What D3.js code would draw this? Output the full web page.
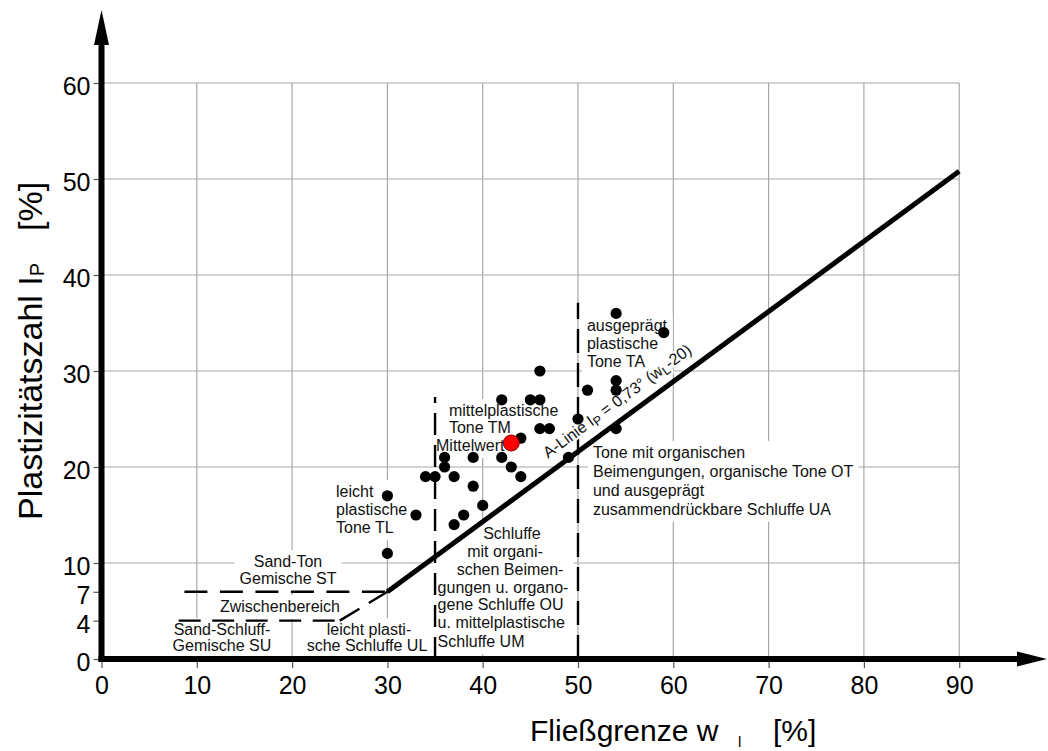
<!DOCTYPE html>
<html><head><meta charset="utf-8">
<script src="https://cdnjs.cloudflare.com/ajax/libs/d3/7.8.5/d3.min.js"></script>
<style>
html,body{margin:0;padding:0;background:#fff;}
svg{display:block;}
</style></head><body>
<svg id="chart" width="1048" height="751"></svg>
<script>
// ---------- data ----------
const xTicks = [0,10,20,30,40,50,60,70,80,90];
const yTicks = [0,4,7,10,20,30,40,50,60];
const xGrid = [10,20,30,40,50,60,70,80,90];
const yGrid = [10,20,30,40,50,60];
const liquidLimit      = [30,30,33,34,35,36,36,37,37,38,39,39,40,42,42,43,44,44,45,46,46,46,47,49,50,51,54,54,54,54,59];
const plasticityIndex  = [11,17,15,19,19,21,20,19,14,15,21,18,16,27,21,20,23,19,27,27,30,24,24,21,25,28,36,29,28,24,34];
const meanPoint = [43, 22.5];
const aLine = [[30,7],[90,50.8]];
const lineST = [[8.7,7],[30,7]];
const lineSU = [[8.1,4],[25,4]];
const lineULdiag = [[25,4],[30,7]];
const lineWL35 = [[35,0],[35,27.3]];
const lineWL50 = [[50,0],[50,37.1]];
const xTitle = "Fließgrenze w";
const yTitle = "Plastizitätszahl I";

// label blocks: text lines with anchor in data coordinates
const labels = [
  {lines:[["ausgeprägt",50.94,34.17,"start"],["plastische",50.94,32.3,"start"],["Tone TA",50.94,30.42,"start"]]},
  {lines:[["Tone mit organischen",51.57,20.94,"start"],["Beimengungen, organische Tone OT",51.57,18.98,"start"],["und ausgeprägt",51.57,17.0,"start"],["zusammendrückbare Schluffe UA",51.57,15.04,"start"]]},
  {lines:[["mittelplastische",36.46,25.31,"start"],["Tone TM",36.46,23.54,"start"],["Mittelwert",35.1,21.67,"start"]]},
  {lines:[["leicht",24.61,16.88,"start"],["plastische",24.61,15.0,"start"],["Tone TL",24.61,13.13,"start"]]},
  {lines:[["Schluffe",43.07,12.5,"middle"],["mit organi-",42.34,10.63,"middle"],["schen Beimen-",42.87,8.75,"middle"],["gungen u. organo-",35.27,6.88,"start"],["gene Schluffe OU",35.27,5.1,"start"],["u. mittelplastische",35.27,3.23,"start"],["Schluffe UM",35.27,1.25,"start"]]},
  {lines:[["Sand-Ton",19.57,9.58,"middle"],["Gemische ST",19.57,7.81,"middle"]]},
  {lines:[["Zwischenbereich",18.73,4.9,"middle"]]},
  {lines:[["Sand-Schluff-",12.64,2.5,"middle"],["Gemische SU",12.64,0.83,"middle"]]},
  {lines:[["leicht plasti-",28.07,2.5,"middle"],["sche Schluffe UL",27.86,0.83,"middle"]]}
];

// ---------- setup ----------
const svg = d3.select("#chart");
const x = d3.scaleLinear().domain([0,90]).range([101.5,959.2]);
const y = d3.scaleLinear().domain([0,60]).range([659,83]);
const line = d3.line().x(d=>x(d[0])).y(d=>y(d[1]));
const cadFont = "'Liberation Sans', Arial, sans-serif";

// grid
const grid = svg.append("g").attr("stroke","#a8a8a8").attr("stroke-width",1.2);
grid.selectAll("line.v").data(xGrid).join("line")
  .attr("x1",d=>x(d)).attr("x2",d=>x(d)).attr("y1",y(0)).attr("y2",y(60));
grid.selectAll("line.h").data(yGrid).join("line")
  .attr("x1",x(0)).attr("x2",x(90)).attr("y1",d=>y(d)).attr("y2",d=>y(d));

// axes (ticks + labels)
const yAxis = svg.append("g").attr("transform",`translate(${x(0)},0)`)
  .call(d3.axisLeft(y).tickValues(yTicks).tickSize(8).tickPadding(3).tickFormat(d3.format("d")));
const xAxis = svg.append("g").attr("transform",`translate(0,${y(0)})`)
  .call(d3.axisBottom(x).tickValues(xTicks).tickSize(9).tickPadding(8).tickFormat(d3.format("d")));
[xAxis,yAxis].forEach(g=>{
  g.select(".domain").remove();
  g.selectAll(".tick line").attr("stroke","#555").attr("stroke-width",1.2);
  g.selectAll(".tick text").attr("fill","#000").style("font-family","'Liberation Sans', Arial, sans-serif").style("font-size","25px");
});
yAxis.selectAll(".tick text").attr("dy","0.47em");

// label blocks
const lab = svg.append("g");
labels.forEach(b=>{
  const g = lab.append("g");
  const bg = g.append("rect").attr("fill","#fff");
  const t = g.append("g");
  b.lines.forEach(l=>{
    t.append("text").attr("x",x(l[1])).attr("y",y(l[2])).attr("text-anchor",l[3])
      .style("font-family",cadFont).style("font-size","16px").attr("fill","#111").text(l[0]);
  });
  const bb = t.node().getBBox();
  const p = 5;
  bg.attr("x",bb.x-p).attr("y",bb.y-p+2).attr("width",bb.width+2*p).attr("height",bb.height+2*p-3);
});

// boundary dashed lines
const dashed = svg.append("g").attr("fill","none").attr("stroke","#000").attr("stroke-width",2.4);
dashed.append("path").attr("d",line(lineST)).attr("stroke-dasharray","23,12.5");
dashed.append("path").attr("d",line(lineSU)).attr("stroke-dasharray","22,11.5");
dashed.append("path").attr("d",line(lineULdiag)).attr("stroke-dasharray","23,11");
dashed.append("path").attr("d",line(lineWL35)).attr("stroke-dasharray","22,10");
dashed.append("path").attr("d",line(lineWL50)).attr("stroke-dasharray","24,10");

// A-line
svg.append("path").attr("d",line(aLine)).attr("fill","none").attr("stroke","#000").attr("stroke-width",5);

// A-line label
const ang = Math.atan2(y(aLine[1][1])-y(aLine[0][1]), x(aLine[1][0])-x(aLine[0][0]));
const lx = 47.6, ly = aLine[0][1] + (lx-aLine[0][0])*(aLine[1][1]-aLine[0][1])/(aLine[1][0]-aLine[0][0]);
const off = 12;
const px = x(lx) + Math.sin(ang)*off, py = y(ly) - Math.cos(ang)*off;
const at = svg.append("text").attr("transform",`translate(${px},${py}) rotate(${ang*180/Math.PI})`)
  .style("font-family",cadFont).style("font-size","16px").attr("fill","#111")
  .attr("stroke","#fff").attr("stroke-width",4).attr("paint-order","stroke");
at.append("tspan").text("A-Linie I");
at.append("tspan").attr("dy",3).style("font-size","12.5px").text("P");
at.append("tspan").attr("dy",-3).text(" = 0,73° (w");
at.append("tspan").attr("dy",3).style("font-size","12.5px").text("L");
at.append("tspan").attr("dy",-3).text("-20)");

// points
svg.append("g").selectAll("circle").data(liquidLimit.map((d,i)=>[d,plasticityIndex[i]])).join("circle")
  .attr("cx",d=>x(d[0])).attr("cy",d=>y(d[1])).attr("r",5.6).attr("fill","#000");
svg.append("circle").attr("cx",x(meanPoint[0])).attr("cy",y(meanPoint[1])).attr("r",8)
  .attr("fill","#ff0000").attr("stroke","#8b0000").attr("stroke-width",1);

// thick axes with arrows
const ax = svg.append("g");
ax.append("line").attr("x1",x(0)).attr("x2",x(0)).attr("y1",y(0)+3).attr("y2",45).attr("stroke","#000").attr("stroke-width",6);
ax.append("path").attr("d",`M${x(0)-7.5},45 L${x(0)+7.5},45 L${x(0)},10 Z`).attr("fill","#000");
ax.append("line").attr("x1",x(0)-3).attr("x2",1017).attr("y1",y(0)).attr("y2",y(0)).attr("stroke","#000").attr("stroke-width",6);
ax.append("path").attr("d",`M1017,${y(0)-7.5} L1017,${y(0)+7.5} L1047,${y(0)} Z`).attr("fill","#000");

// axis titles
const xt = svg.append("text").attr("y",741).style("font-family","'Liberation Sans', Arial, sans-serif").style("font-size","30px").attr("fill","#000");
xt.append("tspan").attr("x",530).text(xTitle);
xt.append("tspan").attr("x",738).attr("dy",6).style("font-size","15px").text("l");
xt.append("tspan").attr("x",773).attr("dy",-6).text("[%]");

const yt = svg.append("text").attr("transform","translate(42,520) rotate(-90)")
  .style("font-family","'Liberation Sans', Arial, sans-serif").style("font-size","34px").attr("fill","#000");
yt.append("tspan").attr("x",0).text(yTitle);
yt.append("tspan").attr("dy",2).style("font-size","20px").text("P");
yt.append("tspan").attr("x",289).attr("dy",-2).text("[%]");
</script>
</body></html>
